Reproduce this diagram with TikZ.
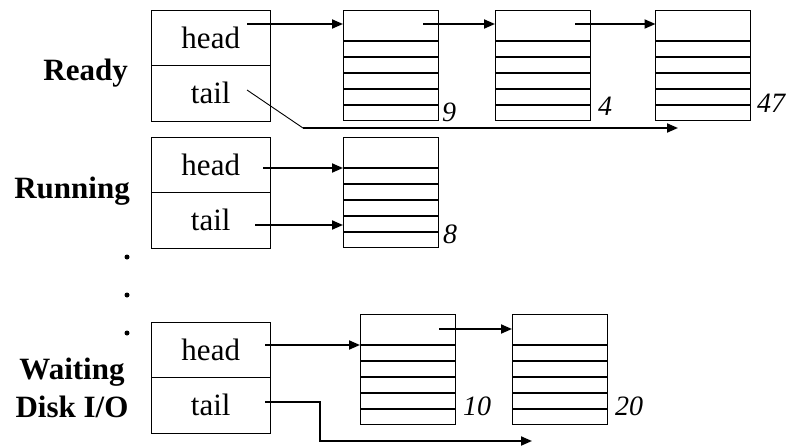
\documentclass[tikz,border=0pt]{standalone}
\usepackage{fontspec}
\setmainfont{Liberation Serif}
\usetikzlibrary{arrows.meta}

% horizontal rows inside a process control block
\newcommand{\pcbrows}[1]{%
  \foreach \k in {0,...,4}{%
    \draw[rowline] ([yshift=-31pt-16pt*\k]#1.north west) -- ([yshift=-31pt-16pt*\k]#1.north east);
  }%
}

\begin{document}
\begin{tikzpicture}[x=1pt,y=-1pt,
  pcb/.style={draw, line width=1pt, minimum width=95pt, minimum height=110pt,
    inner sep=0pt, outer sep=0pt, anchor=north west},
  half/.style={draw, line width=1pt, minimum width=118.5pt, minimum height=55.5pt,
    inner sep=0pt, outer sep=0pt, font=\fontsize{31}{31}\selectfont},
  rowline/.style={line width=1.9pt},
  link/.style={line width=1.9pt, -{Triangle[length=11pt,width=9pt]}},
  thinline/.style={line width=0.9pt},
  qlabel/.style={font=\fontsize{31}{31}\selectfont\bfseries, inner sep=0pt},
  count/.style={font=\fontsize{28}{28}\selectfont\itshape, inner sep=0pt, anchor=base west},
  dot/.style={circle, fill, inner sep=0pt, minimum size=5pt}
]
\useasboundingbox (0,0) rectangle (786,447);

% ---------- Ready queue ----------
\node[qlabel, anchor=base east] (readylbl) at (128,80) {Ready};
\node[half, anchor=north west] (rdyhead) at (151.5,10) {head};
\node[half, anchor=north] (rdytail) at (rdyhead.south) {tail};

\node[pcb] (p1) at (343,10) {};
\node[pcb] (p2) at (495,10) {};
\node[pcb] (p3) at (655.5,10) {};
\pcbrows{p1}\pcbrows{p2}\pcbrows{p3}
\node[count] (n9) at (442,121) {9};
\node[count] (n4) at (598,115) {4};
\node[count] (n47) at (757,112) {47};

\coordinate (rh0) at (247,24);
\draw[link] (rh0) -- (rh0 -| p1.west);
\coordinate (c1) at (423,24);
\draw[link] (c1) -- (c1 -| p2.west);
\coordinate (c2) at (575,24);
\draw[link] (c2) -- (c2 -| p3.west);

\coordinate (rt0) at (247,90);
\coordinate (rtk) at (303,128);
\coordinate (rtend) at (678,128);
\draw[thinline] (rt0) -- (rtk);
\draw[link] (rtk) -- (rtend);

% ---------- Running queue ----------
\node[qlabel, anchor=base east] (runlbl) at (130,198) {Running};
\node[half, anchor=north west] (runhead) at (151.5,137) {head};
\node[half, anchor=north] (runtail) at (runhead.south) {tail};

\node[pcb] (p4) at (343,137) {};
\pcbrows{p4}
\node[count] (n8) at (443,243) {8};

\coordinate (uh0) at (263,168);
\draw[link] (uh0) -- (uh0 -| p4.west);
\coordinate (ut0) at (255,225);
\draw[link] (ut0) -- (ut0 -| p4.west);

% ---------- ellipsis ----------
\node[dot] (d1) at (127,257) {};
\node[dot] (d2) at (127,295) {};
\node[dot] (d3) at (127,333) {};

% ---------- Waiting (disk I/O) queue ----------
\node[qlabel, anchor=base] (waitlbl) at (72,379) {Waiting};
\node[qlabel, anchor=base] (disklbl) at (72,417) {Disk I/O};
\node[half, anchor=north west] (wthead) at (151.5,322) {head};
\node[half, anchor=north] (wttail) at (wthead.south) {tail};

\node[pcb] (p6) at (360,314) {};
\node[pcb] (p7) at (512,314) {};
\pcbrows{p6}\pcbrows{p7}
\node[count] (n10) at (463,415) {10};
\node[count] (n20) at (615,415) {20};

\coordinate (wh0) at (265,345);
\draw[link] (wh0) -- (wh0 -| p6.west);
\coordinate (c3) at (439,329);
\draw[link] (c3) -- (c3 -| p7.west);

\coordinate (wt0) at (265,402);
\coordinate (wtend) at (532,441);
\draw[link] (wt0) -- (320,402) -- (320,441) -- (wtend);

\end{tikzpicture}
\end{document}
